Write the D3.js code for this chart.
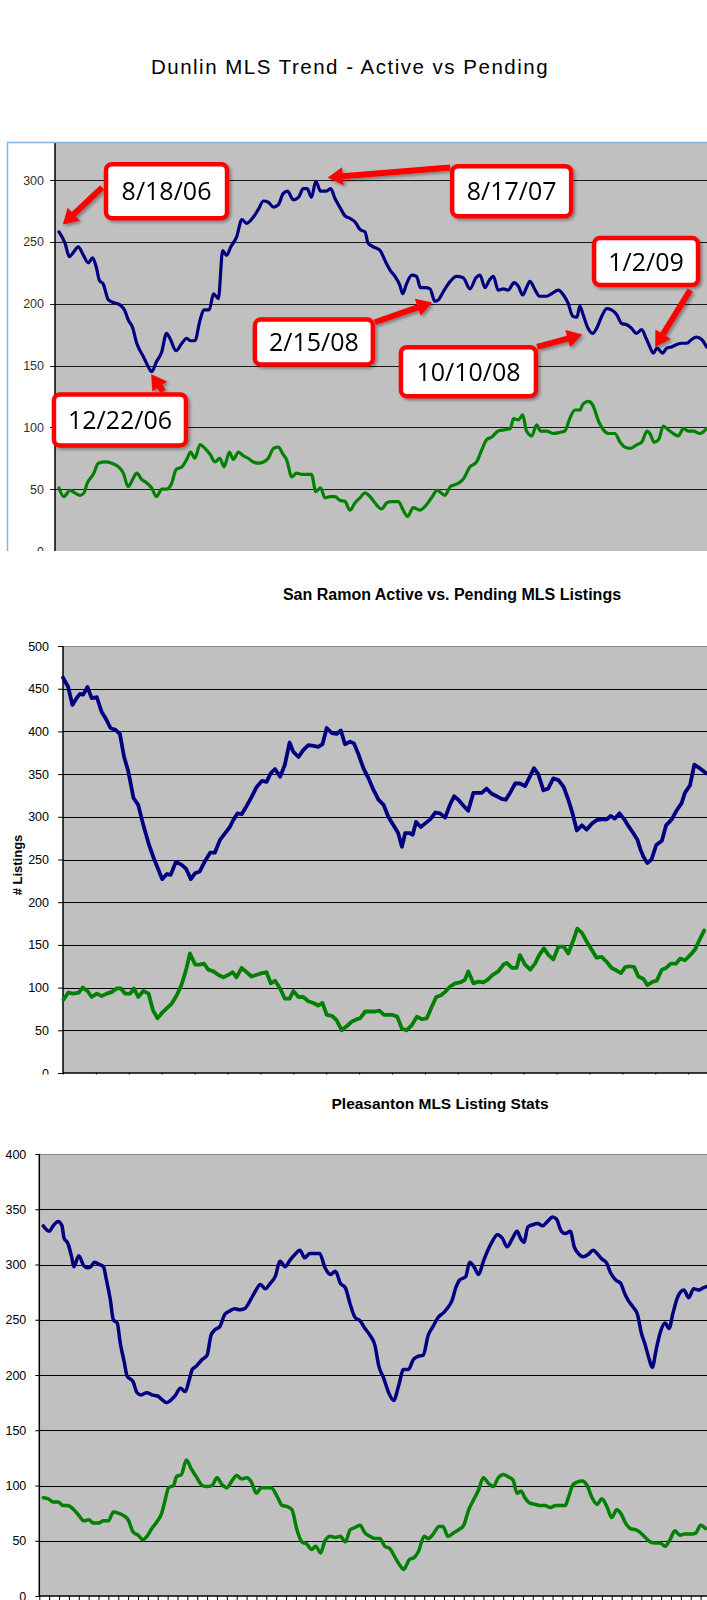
<!DOCTYPE html>
<html>
<head>
<meta charset="utf-8">
<script src="https://cdn.jsdelivr.net/npm/d3@7"></script>
<style>
body{margin:0;background:#fff;}
svg{display:block;font-family:"Liberation Sans",Arial,sans-serif;}
</style>
</head>
<body>
<script>
var width = 707, height = 1600;

// ---- Dunlin (x = weeks from 8/18/06, y = listings)
var dunlinActive = [[0,258],[1.25,249],[2.15,238],[3.1,242],[4,246],[5.1,239],[6.1,233],[7,237],[7.8,229],[8.4,219],[9.2,216],[10.3,203],[11.3,201],[12.7,199],[13.75,194],[14.4,187],[15.3,181],[16.2,168],[17.6,157],[18.6,149],[19.3,145],[20.3,153],[21.4,161],[22.4,176],[23.1,172],[24.4,162],[25.6,168],[26.6,172],[27.4,170],[28.3,170],[29.4,187],[30.2,195],[31.3,195],[32.2,208],[33.2,204],[34.1,243],[34.9,239],[35.8,246],[37,254],[38.1,268],[39.1,265],[40.5,270],[41.5,276],[42.6,283],[43.6,282],[44.7,278],[45.7,280],[46.7,289],[47.6,291],[48.8,284],[49.9,286],[50.9,293],[51.7,293],[52.6,286],[53.5,299],[54.5,291],[55.6,291],[56.6,293],[57.5,285],[58.5,278],[59.6,271],[60.6,269],[61.7,266],[62.7,260],[63.75,258],[64.4,249],[65.5,246],[66.9,243],[67.9,235],[69,227],[70,222],[71,215],[71.6,208],[72.4,216],[73.5,223],[74.5,222],[75.3,213],[76.25,213],[77.3,212],[78.3,202],[79,203],[80.1,210],[81.5,218],[82.8,222],[84.2,221],[85.6,212],[86.9,221],[87.7,223],[88.75,213],[89.65,219],[90.5,222],[91.5,211],[92.6,212],[93.6,211],[94.8,217],[95.7,214],[96.6,207],[97.4,213],[98.1,218],[99.2,211],[100.1,206],[101.6,206],[102.6,208],[104,211],[105.1,207],[106.1,200],[107,190],[107.9,189],[108.5,198],[109.2,191],[110.1,181],[111.2,176],[112,180],[113.1,190],[114.1,196],[115.1,195],[116.2,191],[117.2,184],[118.3,183],[119.3,180],[120.3,176],[121.4,179],[122.3,172],[123.1,165],[123.8,160],[124.6,164],[125.75,160],[126.6,164],[127.6,165],[128.7,167],[129.7,168],[130.8,168],[131.8,171],[132.8,173],[133.9,171],[134.9,165]];
var dunlinPending = [[0,51],[1,44],[2.3,49],[3.3,47],[4.4,45],[5.2,47],[5.9,55],[7.15,62],[8.2,71],[9.6,72],[11,71],[12.4,68],[13.4,63],[14.4,52],[15.35,58],[16.2,63],[17.2,58],[18.3,55],[19.3,51],[20.3,44],[21.4,50],[22.4,50],[23.5,55],[24.4,66],[25.6,68],[26.6,74],[27.4,80],[28.3,75],[29.4,86],[30.4,83],[31.5,78],[32.5,72],[33.5,75],[34.4,68],[35.5,80],[36.3,74],[37.4,80],[38.4,77],[39.4,75],[40.5,72],[41.5,71],[42.6,72],[43.6,75],[44.7,83],[45.7,84],[46.7,78],[47.4,74],[48.5,60],[49.5,63],[50.6,62],[51.6,62],[52.6,62],[53.5,48],[54.5,51],[55.4,43],[56.5,44],[57.5,44],[58.5,41],[59.6,40],[60.6,33],[61.7,39],[62.7,43],[63.75,47],[64.8,44],[65.8,39],[67.2,34],[68.3,39],[69.3,40],[70.7,40],[71.7,33],[72.6,28],[73.8,35],[75.2,33],[76.25,36],[77.6,43],[78.8,49],[80.4,45],[81.5,52],[82.8,54],[84.2,58],[85.6,68],[87,72],[88.1,82],[89.1,90],[90.1,92],[91.5,97],[92.9,98],[94,99],[94.7,107],[95.7,106],[96.6,110],[97.4,97],[98.5,93],[99.5,102],[100.3,97],[101.6,97],[103,95],[104.4,96],[105.4,97],[106.4,107],[107.5,114],[108.5,114],[109.2,119],[110.3,121],[111.2,118],[112.4,105],[113.4,98],[114.5,95],[115.8,95],[116.9,88],[117.9,84],[119,83],[120.4,86],[121.4,88],[122.5,97],[123.1,95],[124,88],[124.9,90],[125.9,101],[126.9,98],[128,95],[129,93],[130.1,99],[131.1,97],[132.2,97],[133.5,95],[134.9,99]];
var dunlinTicks = [0,50,100,150,200,250,300];

// callouts on the Dunlin chart: label, point, arrow start, box centre (weeks, listings)
var calloutLabels = ["8/18/06","12/22/06","8/17/07","2/15/08","10/10/08","1/2/09"];
var calloutPoints = [[0.8,264],[19.2,143],[56,302],[77.7,201],[109,175],[124.2,165]];
var calloutTails  = [[9,294],[21.7,129],[81.5,310],[65.8,185],[99.6,165],[131.5,211]];
var calloutBoxes  = [[22.4,291],[12.7,106],[94.3,291],[53.1,169],[85.3,145],[122.3,234]];

// ---- San Ramon
var sanRamonActive = [[0,463],[1.1,452],[2,431],[2.9,439],[3.6,444],[4.3,443],[5.2,452],[6.1,439],[7.2,440],[8.2,423],[9.1,415],[10.1,404],[11.1,402],[12.1,397],[13,370],[13.9,353],[15,322],[16,314],[17.1,290],[18.2,269],[19.2,253],[20.3,238],[21.1,227],[22.1,233],[22.9,232],[24,247],[25.2,244],[26.2,239],[27.2,227],[28.1,234],[29.1,236],[30.2,248],[31.3,258],[32.3,258],[33.4,273],[34.5,281],[35.5,288],[36.2,296],[37.1,304],[38,303],[39.1,313],[40.1,323],[41.2,335],[42.3,342],[43.3,341],[44.2,351],[45.1,356],[46.2,347],[47.2,361],[48.2,387],[49,376],[50.1,370],[51.1,378],[52.2,384],[53.3,383],[54.3,382],[55.2,385],[56.1,404],[57.2,398],[58.2,397],[59.1,401],[60,385],[61.1,388],[61.9,386],[62.8,374],[63.9,357],[65,345],[66,332],[67.1,320],[68.2,314],[69.2,300],[70.3,290],[71.3,281],[72.1,265],[72.8,281],[73.7,281],[74.4,279],[75.1,294],[76.1,288],[77,292],[78.1,297],[79.2,305],[80.2,304],[81.3,299],[82.3,314],[83.2,324],[84.1,320],[85.2,313],[86.2,307],[87.3,328],[88.4,328],[89.1,328],[90.1,333],[91.2,327],[92.3,324],[93.3,321],[94.2,320],[95.1,328],[96.2,339],[97.2,339],[98.3,336],[99.4,348],[100.2,357],[101.1,350],[102.2,331],[103.2,333],[104.3,345],[105.4,343],[106.5,335],[107.5,320],[108.4,304],[109.3,284],[110.4,290],[111.4,285],[112.5,292],[113.5,296],[114.6,297],[115.7,297],[116.5,301],[117.4,298],[118.4,304],[119.4,297],[120.3,289],[121.3,281],[122.2,273],[122.9,261],[123.5,253],[124.3,246],[125.2,250],[126.2,267],[127.4,272],[128.3,290],[129.5,297],[130.6,308],[131.6,316],[132.3,328],[133.4,337],[134.3,361],[135.4,357],[136.8,351]];
var sanRamonPending = [[0.1,86],[1.1,94],[2.2,93],[3.3,94],[4.2,100],[5.2,96],[6.1,89],[7.2,93],[8.2,90],[9.3,93],[10.4,95],[11.4,99],[12.3,99],[13.2,93],[14.3,93],[15.1,99],[16,89],[17.1,96],[18.2,93],[19.1,74],[20.1,64],[21,70],[22.1,76],[23.1,81],[24.2,91],[25.2,103],[26.2,121],[27,140],[28.1,127],[29.1,127],[30,128],[30.9,121],[32,119],[33,115],[34.1,112],[35.2,115],[36.1,118],[36.9,112],[38,123],[39.1,118],[40.1,113],[41.2,115],[42.3,117],[43.3,118],[44.2,105],[45.1,108],[46.2,99],[47.2,87],[48.2,87],[49,96],[50.1,89],[51.1,89],[52.2,84],[53.3,82],[54.3,79],[55.2,82],[56.1,68],[57.2,67],[58.2,62],[59.3,50],[60.4,55],[61.4,60],[62.5,63],[63.2,64],[64.3,72],[65.3,72],[66.4,72],[67.3,73],[68.3,68],[69.2,68],[70.1,68],[71.1,66],[72.1,52],[73.1,50],[74.2,56],[75.3,66],[76.3,63],[77.4,64],[78.4,77],[79.4,89],[80.4,91],[81.3,95],[82.3,101],[83.4,105],[84.5,106],[85.5,109],[86.2,119],[87.3,105],[88.4,107],[89.4,106],[90.3,109],[91.4,115],[92.6,119],[93.7,127],[94.4,129],[95.5,123],[96.5,123],[97.2,138],[98.3,127],[99.4,121],[100.4,128],[101.3,138],[102.3,146],[103.3,138],[104.3,133],[105.4,148],[106.5,148],[107.5,140],[108.6,156],[109.4,169],[110.4,164],[111.4,154],[112.5,144],[113.5,135],[114.6,136],[115.7,130],[116.7,123],[117.8,120],[118.7,117],[119.6,124],[120.6,125],[121.5,124],[122.4,113],[123.5,110],[124.3,103],[125.5,107],[126.3,108],[127.4,121],[128.3,123],[129.3,128],[130.4,128],[131.3,134],[132.3,132],[133.4,138],[134.5,145],[135.4,156],[136.4,167]];
var sanRamonTicks = [0,50,100,150,200,250,300,350,400,450,500];

// ---- Pleasanton
var pleasantonActive = [[0.4,335],[1,330],[1.4,335],[1.9,339],[2.3,335],[2.5,324],[2.9,319],[3.3,306],[3.5,298],[4,308],[4.5,299],[4.9,297],[5.2,298],[5.6,302],[6.1,300],[6.5,298],[6.8,286],[7.2,268],[7.5,250],[7.9,247],[8.2,229],[8.6,212],[8.9,199],[9.5,194],[9.9,184],[10.3,182],[10.9,184],[11.4,182],[12,181],[12.4,178],[12.9,175],[13.3,177],[13.75,181],[14.3,188],[14.8,185],[15.2,196],[15.5,205],[15.9,208],[16.5,214],[17,218],[17.4,236],[17.8,241],[18.3,244],[18.8,255],[19.3,258],[19.8,260],[20.3,259],[20.8,260],[21.4,268],[21.9,276],[22.4,282],[22.9,278],[23.4,283],[23.9,289],[24.4,303],[24.9,298],[25.4,304],[25.9,309],[26.4,313],[26.9,306],[27.4,310],[27.9,310],[28.4,310],[28.95,297],[29.5,291],[30,294],[30.5,283],[31,279],[31.5,264],[32,252],[32.5,249],[33,242],[33.5,236],[34,227],[34.4,208],[34.9,197],[35.4,184],[35.9,177],[36.4,190],[36.9,205],[37.4,205],[37.9,214],[38.4,217],[38.9,218],[39.4,236],[39.9,244],[40.4,252],[40.9,256],[41.4,261],[41.8,267],[42.2,279],[42.6,286],[43.2,289],[43.6,302],[44.1,297],[44.5,291],[45,303],[45.4,312],[45.9,321],[46.4,327],[46.9,324],[47.4,316],[47.9,323],[48.4,330],[48.8,323],[49.1,320],[49.5,334],[50,336],[50.5,337],[51,335],[51.5,339],[52,343],[52.4,341],[52.9,330],[53.3,328],[53.8,330],[54.2,316],[54.6,310],[55.1,307],[55.6,309],[56.1,313],[56.6,309],[57,305],[57.5,301],[57.9,292],[58.4,286],[58.9,283],[59.3,274],[59.7,267],[60.2,261],[60.6,255],[61,238],[61.4,227],[61.8,214],[62.1,207],[62.5,223],[62.9,238],[63.4,247],[63.8,242],[64.2,256],[64.7,271],[65.3,277],[65.8,270],[66.3,278],[66.8,277],[67.3,279],[67.6,280]];
var pleasantonPending = [[0.4,89],[0.9,88],[1.4,85],[1.9,85],[2.4,82],[2.9,82],[3.5,78],[4,73],[4.5,68],[5,69],[5.5,66],[6,66],[6.5,68],[7,68],[7.5,76],[8,75],[8.5,73],[9,69],[9.5,58],[10,55],[10.5,51],[10.9,54],[11.4,61],[11.9,67],[12.4,75],[12.7,85],[13.1,98],[13.6,100],[13.9,108],[14.4,110],[14.9,123],[15.4,115],[15.9,108],[16.5,100],[17,99],[17.5,100],[18,107],[18.5,101],[19,98],[19.5,104],[20,109],[20.5,106],[21,107],[21.5,103],[22,93],[22.5,98],[23,98],[23.5,98],[24.1,90],[24.6,82],[25.1,81],[25.6,78],[26.1,60],[26.6,49],[27.1,47],[27.6,42],[28,45],[28.5,39],[28.95,50],[29.5,54],[30,53],[30.5,54],[31,49],[31.5,60],[32,62],[32.5,64],[33,57],[33.5,54],[34,52],[34.5,52],[35,45],[35.5,43],[36.1,34],[36.6,27],[36.9,24],[37.5,33],[38,35],[38.4,40],[39,54],[39.4,52],[39.9,56],[40.5,63],[40.9,63],[41.4,54],[41.96,57],[42.5,60],[43,64],[43.5,78],[44,87],[44.5,96],[45,107],[45.5,102],[46,99],[46.5,107],[47,110],[47.5,108],[48,105],[48.4,93],[48.8,95],[49.2,89],[49.7,84],[50.2,83],[50.7,82],[51.2,82],[51.8,80],[52.3,82],[52.8,82],[53.3,82],[53.6,89],[54.1,101],[54.5,103],[55,104],[55.5,100],[56,89],[56.5,83],[57,88],[57.5,81],[58,71],[58.5,78],[58.9,75],[59.4,66],[59.9,61],[60.4,60],[60.8,58],[61.4,53],[61.9,49],[62.4,48],[62.9,48],[63.4,45],[63.9,51],[64.4,59],[64.9,55],[65.4,56],[65.9,56],[66.5,57],[67,64],[67.5,61]];
var pleasantonTicks = [0,50,100,150,200,250,300,350,400];

var activeColor = "#000080", pendingColor = "#008000";

var svg = d3.select("body").append("svg")
	.attr("width", width)
	.attr("height", height);

var defs = svg.append("defs");
defs.append("filter")
	.attr("id", "shadow")
	.attr("x", "-20%").attr("y", "-20%")
	.attr("width", "140%").attr("height", "140%")
	.append("feDropShadow")
	.attr("dx", 2).attr("dy", 2)
	.attr("stdDeviation", 1.5)
	.attr("flood-color", "#000")
	.attr("flood-opacity", 0.35);

// each panel is a cropped screenshot, so clip it
[["clip1", 141, 551], ["clip2", 560, 1074.5], ["clip3", 1100, 1600]].forEach(function(c){
	defs.append("clipPath").attr("id", c[0])
		.append("rect").attr("x", 0).attr("y", c[1]).attr("width", width).attr("height", c[2]-c[1]);
});

function drawPanel(p){
	var g = svg.append("g").attr("clip-path", "url(#" + p.clip + ")");
	var x0 = p.left, x1 = width, y0 = p.y.range()[0];

	g.append("rect")
		.attr("x", x0).attr("y", p.top)
		.attr("width", x1 - x0).attr("height", y0 - p.top)
		.attr("fill", "#c0c0c0");

	// gridlines
	g.append("g").selectAll("line")
		.data(p.grid)
		.enter().append("line")
		.attr("x1", x0 - p.gridOut).attr("x2", x1)
		.attr("y1", function(d){ return Math.round(p.y(d)) + 0.5; })
		.attr("y2", function(d){ return Math.round(p.y(d)) + 0.5; })
		.attr("stroke", p.gridColor)
		.attr("stroke-width", 1);

	// y axis labels + small ticks
	var yAxis = d3.axisLeft(p.y)
		.tickValues(p.ticks)
		.tickSize(p.tickLen)
		.tickPadding(p.pad)
		.tickFormat(d3.format("d"));
	var ya = g.append("g")
		.attr("transform", "translate(" + x0 + ",0)")
		.call(yAxis);
	ya.select(".domain").remove();
	ya.selectAll("line").attr("stroke", "#000");
	ya.selectAll("text")
		.attr("font-family", "'Liberation Sans', Arial, sans-serif")
		.attr("font-size", p.fontSize)
		.attr("fill", p.labelColor);

	if (p.topBorder) {
		g.append("line")
			.attr("x1", x0).attr("x2", x1)
			.attr("y1", p.top + 0.5).attr("y2", p.top + 0.5)
			.attr("stroke", "#888").attr("stroke-width", 1);
	}

	// x axis ticks
	if (p.xTicks) {
		var xa = g.append("g")
			.attr("transform", "translate(0," + y0 + ")")
			.call(d3.axisBottom(p.x).tickValues(p.xTicks).tickSize(4).tickFormat(""));
		xa.select(".domain").remove();
		xa.selectAll("line").attr("stroke", "#000");
		g.append("line")
			.attr("x1", x0).attr("x2", x1)
			.attr("y1", y0).attr("y2", y0)
			.attr("stroke", "#000").attr("stroke-width", 1.5);
	}

	// left axis line
	g.append("line")
		.attr("x1", x0).attr("x2", x0)
		.attr("y1", p.top).attr("y2", y0 + 1)
		.attr("stroke", "#000").attr("stroke-width", 1.5);

	var line = d3.line()
		.x(function(d){ return p.x(d[0]); })
		.y(function(d){ return p.y(d[1]); })
		.curve(p.curve);

	g.append("g").selectAll("path")
		.data(p.series)
		.enter().append("path")
		.attr("d", function(d){ return line(d.values); })
		.attr("fill", "none")
		.attr("stroke", function(d){ return d.color; })
		.attr("stroke-width", p.lineWidth)
		.attr("stroke-linejoin", "round")
		.attr("stroke-linecap", "round");

	return g;
}

// ---------- Panel 1: Dunlin
svg.append("text")
	.attr("x", 350).attr("y", 74)
	.attr("text-anchor", "middle")
	.attr("font-size", 20.5)
	.attr("letter-spacing", 1.5)
	.attr("fill", "#000")
	.text("Dunlin MLS Trend - Active vs Pending");

var x1s = d3.scaleLinear().domain([0, 135]).range([59, 707]);
var y1s = d3.scaleLinear().domain([0, 300]).range([551, 180]);

var g1 = drawPanel({
	clip: "clip1", x: x1s, y: y1s, left: 55, top: 143,
	grid: dunlinTicks.slice(1), gridOut: 5, gridColor: "#1a1a1a",
	ticks: dunlinTicks, tickLen: 0, pad: 11, fontSize: 12.5, labelColor: "#333",
	series: [{values: dunlinActive, color: activeColor}, {values: dunlinPending, color: pendingColor}],
	curve: d3.curveMonotoneX, lineWidth: 3.2
});

// light blue frame of the screenshot
g1.append("path")
	.attr("d", "M7.5,551 V142.5 H707")
	.attr("fill", "none")
	.attr("stroke", "#8fb0dc")
	.attr("stroke-width", 1.5);

// callouts
var boxSize = [[125,58],[136,55],[123,54],[122,49],[139,53],[108,51]];

function arrowPath(t, p){
	var dx = p[0]-t[0], dy = p[1]-t[1], len = Math.sqrt(dx*dx+dy*dy);
	var ux = dx/len, uy = dy/len, nx = -uy, ny = ux;
	var hl = 15, hw = 9, sw = 3;
	var bx = p[0]-ux*hl, by = p[1]-uy*hl;
	var pts = [
		[t[0]+nx*sw, t[1]+ny*sw], [bx+nx*sw, by+ny*sw], [bx+nx*hw, by+ny*hw], p,
		[bx-nx*hw, by-ny*hw], [bx-nx*sw, by-ny*sw], [t[0]-nx*sw, t[1]-ny*sw]
	];
	return "M" + pts.map(function(q){ return q[0].toFixed(1) + "," + q[1].toFixed(1); }).join("L") + "Z";
}

var callouts = calloutLabels.map(function(label, i){
	return {
		label: label,
		tip: [x1s(calloutPoints[i][0]), y1s(calloutPoints[i][1])],
		tail: [x1s(calloutTails[i][0]), y1s(calloutTails[i][1])],
		cx: x1s(calloutBoxes[i][0]), cy: y1s(calloutBoxes[i][1]),
		w: boxSize[i][0], h: boxSize[i][1]
	};
});

var cg = g1.append("g").attr("filter", "url(#shadow)");
cg.selectAll("path.arrow")
	.data(callouts)
	.enter().append("path")
	.attr("class", "arrow")
	.attr("d", function(d){ return arrowPath(d.tail, d.tip); })
	.attr("fill", "#ff0000");

var box = cg.selectAll("g.box")
	.data(callouts)
	.enter().append("g")
	.attr("class", "box")
	.attr("transform", function(d){ return "translate(" + d.cx + "," + d.cy + ")"; });
box.append("rect")
	.attr("x", function(d){ return -d.w/2 + 2; })
	.attr("y", function(d){ return -d.h/2 + 2; })
	.attr("width", function(d){ return d.w - 4; })
	.attr("height", function(d){ return d.h - 4; })
	.attr("rx", 6)
	.attr("fill", "#fff")
	.attr("stroke", "#ff0000")
	.attr("stroke-width", 4.5);
box.append("text")
	.attr("text-anchor", "middle")
	.attr("dy", "0.36em")
	.attr("font-family", "'Open Sans', 'Noto Sans', sans-serif")
	.attr("font-size", 25)
	.attr("fill", "#000")
	.text(function(d){ return d.label; });

// ---------- Panel 2: San Ramon
svg.append("text")
	.attr("x", 452).attr("y", 600)
	.attr("text-anchor", "middle")
	.attr("font-size", 16)
	.attr("font-weight", "bold")
	.text("San Ramon Active vs. Pending MLS Listings");

svg.append("text")
	.attr("transform", "translate(22,865) rotate(-90)")
	.attr("text-anchor", "middle")
	.attr("font-size", 13)
	.attr("font-weight", "bold")
	.text("# Listings");

var x2s = d3.scaleLinear().domain([0, 137]).range([63, 707]);
var y2s = d3.scaleLinear().domain([0, 500]).range([1073, 646]);

drawPanel({
	clip: "clip2", x: x2s, y: y2s, left: 63, top: 646, topBorder: true,
	grid: sanRamonTicks.slice(1, -1), gridOut: 0, gridColor: "#000",
	ticks: sanRamonTicks, tickLen: 5, pad: 9, fontSize: 12.5, labelColor: "#000",
	xTicks: d3.range(0, 138, 7),
	series: [{values: sanRamonActive, color: activeColor}, {values: sanRamonPending, color: pendingColor}],
	curve: d3.curveLinear, lineWidth: 3.8
});

// ---------- Panel 3: Pleasanton
svg.append("text")
	.attr("x", 440).attr("y", 1109)
	.attr("text-anchor", "middle")
	.attr("font-size", 15.5)
	.attr("font-weight", "bold")
	.text("Pleasanton MLS Listing Stats");

var x3s = d3.scaleLinear().domain([0, 68]).range([39.3, 39.3 + 68 * 9.87]);
var y3s = d3.scaleLinear().domain([0, 400]).range([1596, 1154]);

drawPanel({
	clip: "clip3", x: x3s, y: y3s, left: 39.3, top: 1154, topBorder: true,
	grid: pleasantonTicks.slice(1, -1), gridOut: 0, gridColor: "#000",
	ticks: pleasantonTicks, tickLen: 4, pad: 9, fontSize: 12.5, labelColor: "#000",
	xTicks: d3.range(0, 69, 1),
	series: [{values: pleasantonActive, color: activeColor}, {values: pleasantonPending, color: pendingColor}],
	curve: d3.curveMonotoneX, lineWidth: 3.5
});
</script>
</body>
</html>
